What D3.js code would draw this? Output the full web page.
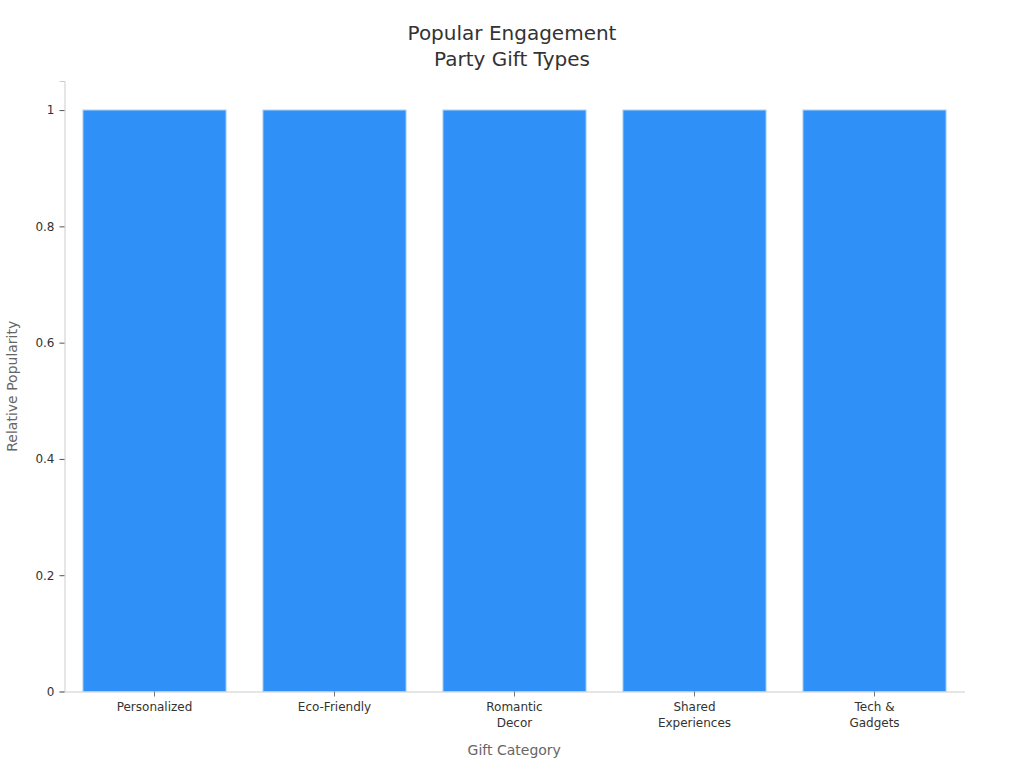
<!DOCTYPE html>
<html>
<head>
<meta charset="utf-8">
<script src="https://cdn.jsdelivr.net/npm/d3@7"></script>
<style>
  body { margin: 0; background: #fff; }
  svg, svg text { font-family: "DejaVu Sans", sans-serif; }
</style>
</head>
<body>
<div id="chart"></div>
<script>
// data
const categories = ['Personalized', 'Eco-Friendly', 'Romantic Decor', 'Shared Experiences', 'Tech & Gadgets'];
const categoryLines = [['Personalized'], ['Eco-Friendly'], ['Romantic', 'Decor'], ['Shared', 'Experiences'], ['Tech &', 'Gadgets']];
const popularity = [1, 1, 1, 1, 1];
const yTicks = [0, 0.2, 0.4, 0.6, 0.8, 1];

const width = 1024, height = 768;
const margin = { top: 81, right: 60, bottom: 76.5, left: 64.5 };

const svg = d3.select('#chart').append('svg')
  .attr('width', width)
  .attr('height', height);

const x = d3.scaleBand()
  .domain(categories)
  .range([margin.left, width - margin.right + 0.5])
  .paddingInner(0.2)
  .paddingOuter(0.1);

const y = d3.scaleLinear()
  .domain([0, 1.05])
  .range([height - margin.bottom, margin.top]);

// bars
svg.append('g')
  .selectAll('rect')
  .data(popularity)
  .join('rect')
  .attr('x', (d, i) => x(categories[i]) + 0.5)
  .attr('y', d => y(d))
  .attr('width', x.bandwidth() - 1)
  .attr('height', d => y(0) - y(d))
  .attr('fill', '#2f91f8')
  .attr('stroke', '#9cc9f5')
  .attr('stroke-width', 1);

// y axis
const yAxis = svg.append('g')
  .attr('transform', `translate(${margin.left},0)`)
  .call(d3.axisLeft(y).tickValues(yTicks).tickFormat(d3.format('')).tickSize(5).tickPadding(5));
yAxis.attr('font-family', null);
yAxis.select('.domain').attr('stroke', '#cccccc');
yAxis.selectAll('.tick line').attr('stroke', '#555');
yAxis.selectAll('.tick text').attr('fill', '#333').style('font-size', '12px');

// x axis
const xAxis = svg.append('g')
  .attr('transform', `translate(0,${y(0)})`)
  .call(d3.axisBottom(x).tickSize(5).tickSizeOuter(0).tickPadding(6));
xAxis.attr('font-family', null);
xAxis.select('.domain').attr('stroke', '#cccccc');
xAxis.selectAll('.tick line').attr('stroke', '#777');
xAxis.selectAll('.tick text').each(function (d, i) {
  const t = d3.select(this).text(null).attr('fill', '#333').style('font-size', '12px');
  categoryLines[i].forEach((line, k) => {
    t.append('tspan').attr('x', 0).attr('dy', k === 0 ? '0.71em' : '1.35em').text(line);
  });
});

// titles
const title = svg.append('text')
  .attr('x', width / 2)
  .attr('y', 40)
  .attr('text-anchor', 'middle')
  .attr('fill', '#333')
  .style('font-size', '20px');
title.append('tspan').attr('x', width / 2).text('Popular Engagement');
title.append('tspan').attr('x', width / 2).attr('dy', 26).text('Party Gift Types');

svg.append('text')
  .attr('x', (margin.left + width - margin.right) / 2)
  .attr('y', 755)
  .attr('text-anchor', 'middle')
  .attr('fill', '#666')
  .style('font-size', '14px')
  .text('Gift Category');

svg.append('text')
  .attr('transform', `translate(17,${(margin.top + height - margin.bottom) / 2}) rotate(-90)`)
  .attr('text-anchor', 'middle')
  .attr('fill', '#666')
  .style('font-size', '14px')
  .text('Relative Popularity');
</script>
</body>
</html>
